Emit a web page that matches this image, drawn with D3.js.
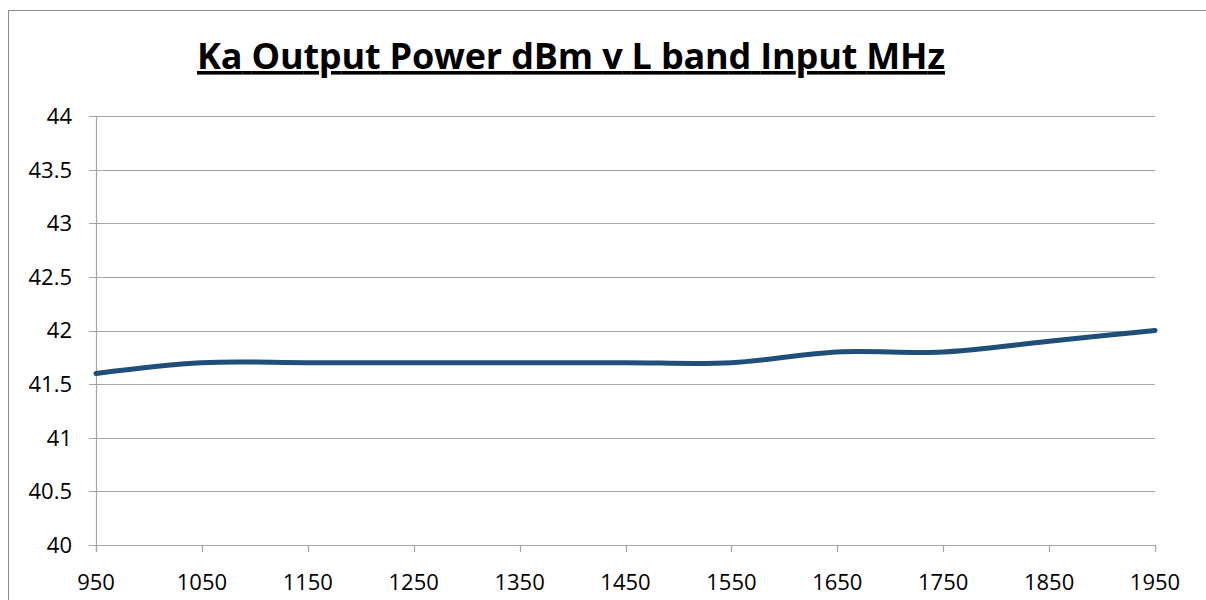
<!DOCTYPE html>
<html>
<head>
<meta charset="utf-8">
<script src="https://cdn.jsdelivr.net/npm/d3@7"></script>
<style>
  body { margin: 0; background: #fff; }
  svg { display: block; font-family: "Open Sans", Lato, sans-serif; }
</style>
</head>
<body>
<svg id="chart" width="1206" height="600"></svg>
<script>
// data
const freqs = [950, 1050, 1150, 1250, 1350, 1450, 1550, 1650, 1750, 1850, 1950]
const power = [41.6, 41.7, 41.7, 41.7, 41.7, 41.7, 41.7, 41.8, 41.8, 41.9, 42.0]
const yTicks = [40, 40.5, 41, 41.5, 42, 42.5, 43, 43.5, 44]
const title = 'Ka Output Power dBm v L band Input MHz'

const svg = d3.select('#chart')

// outer frame
svg.append('rect')
  .attr('x', 8.5).attr('y', 10.5)
  .attr('width', 1210).attr('height', 600)
  .attr('fill', '#fff').attr('stroke', '#8c8c8c').attr('stroke-width', 1)

const plotL = 96, plotR = 1155, plotT = 116, plotB = 545

const x = d3.scaleLinear().domain([950, 1950]).range([plotL, plotR])
const y = d3.scaleLinear().domain([40, 44]).range([plotB, plotT])

// gridlines
svg.append('g')
  .selectAll('line')
  .data(yTicks)
  .join('line')
  .attr('x1', plotL - 7).attr('x2', plotR)
  .attr('y1', d => Math.round(y(d)) + 0.5).attr('y2', d => Math.round(y(d)) + 0.5)
  .attr('stroke', '#a6a6a6').attr('stroke-width', 1.2)

// y axis line
svg.append('line')
  .attr('x1', plotL + 0.5).attr('x2', plotL + 0.5)
  .attr('y1', plotT).attr('y2', plotB + 7)
  .attr('stroke', '#a6a6a6').attr('stroke-width', 1.2)

// x ticks
svg.append('g')
  .selectAll('line')
  .data(freqs)
  .join('line')
  .attr('x1', d => Math.round(x(d)) + 0.5).attr('x2', d => Math.round(x(d)) + 0.5)
  .attr('y1', plotB).attr('y2', plotB + 7)
  .attr('stroke', '#a6a6a6').attr('stroke-width', 1.2)

// y labels
svg.append('g')
  .selectAll('text')
  .data(yTicks)
  .join('text')
  .attr('x', 72)
  .attr('y', d => y(d))
  .attr('dy', '0.36em')
  .attr('text-anchor', 'end')
  .style('font-size', '22px')
  .attr('fill', '#000')
  .text(d => d)

// x labels
svg.append('g')
  .selectAll('text')
  .data(freqs)
  .join('text')
  .attr('x', d => x(d))
  .attr('y', 590)
  .attr('text-anchor', 'middle')
  .style('font-size', '22px')
  .attr('fill', '#000')
  .text(d => d)

// line
const line = d3.line()
  .x((d, i) => x(freqs[i]))
  .y(d => y(d))
  .curve(d3.curveCatmullRom.alpha(0.5))

svg.append('path')
  .datum(power)
  .attr('d', line)
  .attr('fill', 'none')
  .attr('stroke', '#1f4e79')
  .attr('stroke-width', 5)
  .attr('stroke-linecap', 'round')

// title
svg.append('text')
  .attr('x', 571)
  .attr('y', 69)
  .attr('text-anchor', 'middle')
  .attr('textLength', 748)
  .attr('lengthAdjust', 'spacing')
  .style('font-size', '36px')
  .style('font-weight', 'bold')
  .style('text-decoration', 'underline')
  .attr('fill', '#000')
  .text(title)
</script>
</body>
</html>
